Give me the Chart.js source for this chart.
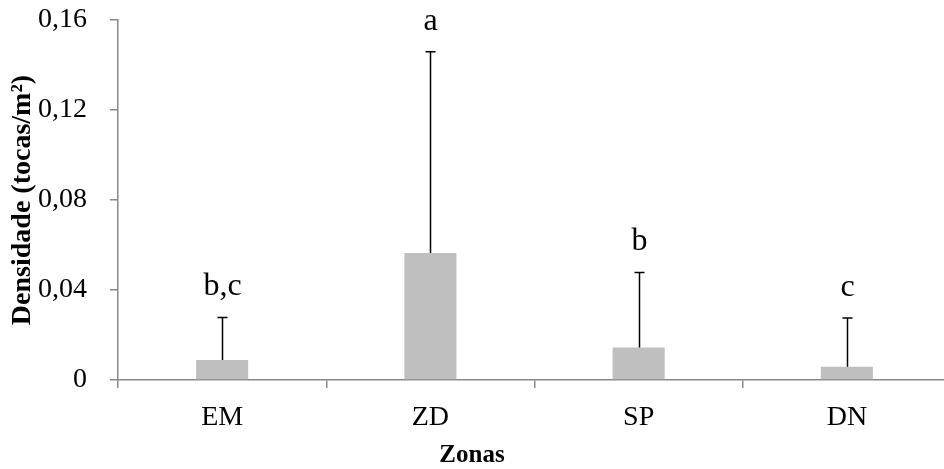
<!DOCTYPE html>
<html>
<head>
<meta charset="utf-8">
<script src="https://cdn.jsdelivr.net/npm/chart.js@4.4.1/dist/chart.umd.min.js"></script>
<style>
  html, body { margin: 0; padding: 0; background: #fff; overflow: hidden; }
  #wrap { width: 960px; height: 469px; }
</style>
</head>
<body>
<div id="wrap"><canvas id="c" width="960" height="469"></canvas></div>
<script>
// Burrow density per zone (mean and standard deviation)
const zonas = ['EM', 'ZD', 'SP', 'DN'];
const densidade = [0.0089, 0.0565, 0.0145, 0.0059];
const desvio = [0.0189, 0.0894, 0.0333, 0.0217];
const letras = ['b,c', 'a', 'b', 'c'];
const yTicks = [0, 0.04, 0.08, 0.12, 0.16];

const FONT = '"Liberation Serif", "Times New Roman", serif';
const AXIS = '#898989';

// Error bars (upper whisker only) plus significance letters above them
const errorBars = {
  id: 'errorBars',
  afterDatasetsDraw(chart) {
    const ctx = chart.ctx;
    const meta = chart.getDatasetMeta(0);
    const y = chart.scales.y;
    ctx.save();
    meta.data.forEach((bar, i) => {
      const x = Math.round(bar.x) + 0.5;
      const yTop = y.getPixelForValue(densidade[i] + desvio[i]);
      const yBar = y.getPixelForValue(densidade[i]);
      ctx.strokeStyle = '#000';
      ctx.lineWidth = 1.5;
      ctx.beginPath();
      ctx.moveTo(x, yBar);
      ctx.lineTo(x, yTop);
      ctx.moveTo(x - 5, yTop);
      ctx.lineTo(x + 5, yTop);
      ctx.stroke();
      ctx.fillStyle = '#000';
      ctx.font = '32px ' + FONT;
      ctx.textAlign = 'center';
      ctx.textBaseline = 'alphabetic';
      ctx.fillText(letras[i], x, yTop - 22);
    });
    ctx.restore();
  },
  afterDraw(chart) {
    const ctx = chart.ctx;
    ctx.save();
    ctx.fillStyle = '#000';
    ctx.font = 'bold 25px ' + FONT;
    ctx.textAlign = 'center';
    ctx.textBaseline = 'alphabetic';
    ctx.fillText('Zonas', 472, 462);
    ctx.restore();
  }
};

new Chart(document.getElementById('c'), {
  type: 'bar',
  data: {
    labels: zonas,
    datasets: [{
      data: densidade,
      backgroundColor: '#bfbfbf',
      borderWidth: 0,
      categoryPercentage: 1,
      barPercentage: 0.25
    }]
  },
  options: {
    responsive: false,
    animation: false,
    devicePixelRatio: 1,
    layout: { padding: { left: 0, top: 20, right: 9, bottom: 0 } },
    plugins: { legend: { display: false }, tooltip: { enabled: false } },
    scales: {
      x: {
        offset: true,
        grid: { offset: true, drawOnChartArea: false, color: AXIS, tickLength: 8, lineWidth: 1.5 },
        border: { color: AXIS, width: 1.5 },
        ticks: { color: '#000', font: { family: FONT, size: 28 }, padding: 13 },
        afterFit(scale) {
          scale.height = 89;
          scale.paddingLeft = 0;
          scale.paddingRight = 0;
        }
      },
      y: {
        min: 0,
        max: 0.16,
        afterBuildTicks(scale) { scale.ticks = yTicks.map(v => ({ value: v })); },
        grid: { drawOnChartArea: false, color: AXIS, tickLength: 8, lineWidth: 1.5 },
        border: { color: AXIS, width: 1.5 },
        ticks: {
          color: '#000',
          font: { family: FONT, size: 28 },
          padding: 23,
          callback: v => v === 0 ? '0' : v.toFixed(2).replace('.', ',')
        },
        title: {
          display: true,
          text: 'Densidade (tocas/m²)',
          color: '#000',
          font: { family: FONT, size: 28, weight: 'bold' },
          padding: { top: 6, bottom: 0 }
        },
        afterFit(scale) {
          scale.width = 118;
          scale.paddingTop = 0;
          scale.paddingBottom = 0;
        }
      }
    }
  },
  plugins: [errorBars]
});
</script>
</body>
</html>
